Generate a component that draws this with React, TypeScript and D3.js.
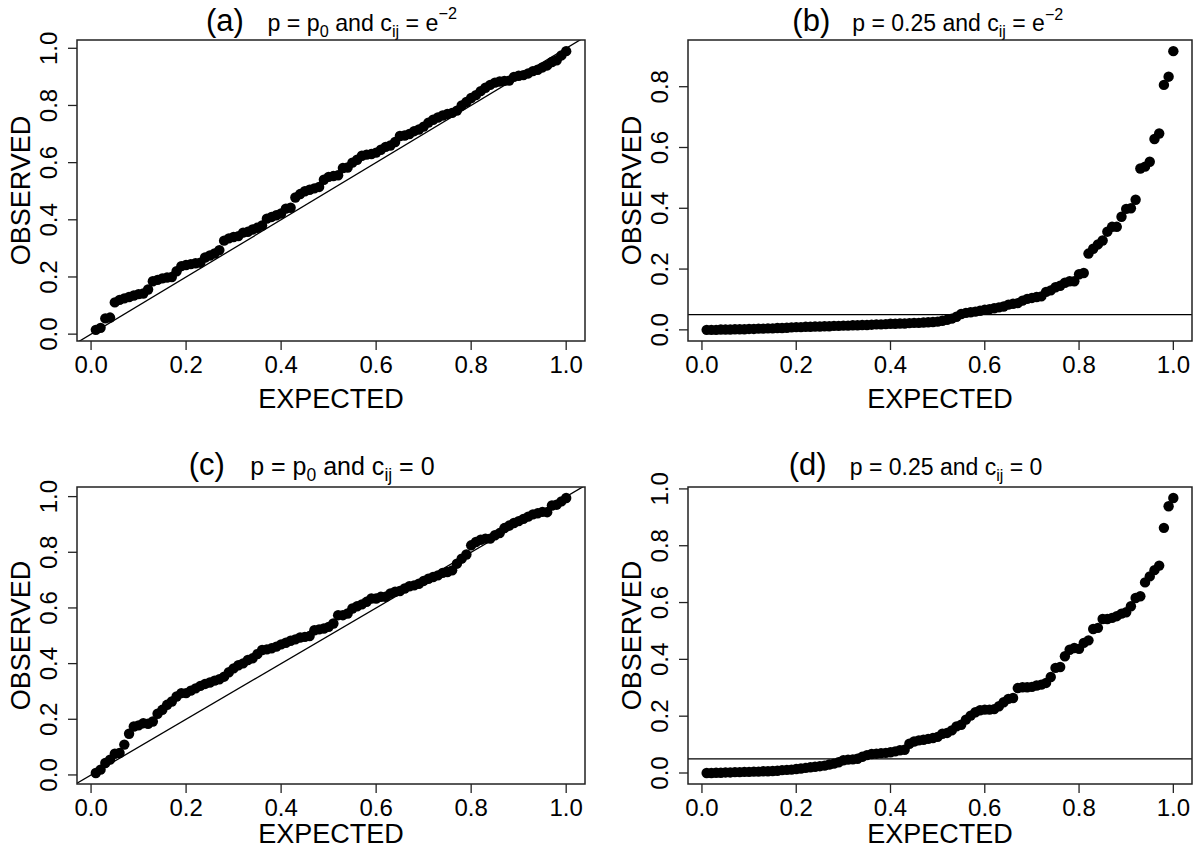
import React from "react";
import * as d3 from "d3";

// Expected quantiles 0.01 .. 1.00
const expected: number[] = d3.range(1, 101).map((i) => i / 100);

const observedA: number[] = [
  0.015, 0.022, 0.055, 0.058, 0.111, 0.12, 0.125, 0.13, 0.135, 0.14,
  0.142, 0.156, 0.185, 0.19, 0.195, 0.198, 0.2, 0.22, 0.238, 0.242,
  0.245, 0.248, 0.25, 0.268, 0.275, 0.282, 0.294, 0.327, 0.335, 0.34,
  0.343, 0.355, 0.358, 0.366, 0.372, 0.38, 0.404, 0.41, 0.416, 0.422,
  0.439, 0.442, 0.478, 0.49, 0.5, 0.505, 0.51, 0.515, 0.54, 0.55,
  0.553, 0.556, 0.581, 0.583, 0.6, 0.61, 0.624, 0.628, 0.63, 0.635,
  0.645, 0.655, 0.66, 0.672, 0.693, 0.695, 0.7, 0.71, 0.716, 0.726,
  0.74, 0.75, 0.758, 0.765, 0.77, 0.774, 0.782, 0.8, 0.812, 0.826,
  0.836, 0.85, 0.862, 0.872, 0.88, 0.884, 0.886, 0.887, 0.9, 0.904,
  0.906, 0.912, 0.92, 0.925, 0.933, 0.94, 0.952, 0.958, 0.975, 0.99,
];

const observedB: number[] = [
  0.0, 0.0, 0.0, 0.001, 0.001, 0.001, 0.002, 0.002, 0.002, 0.003,
  0.003, 0.004, 0.004, 0.005, 0.005, 0.006, 0.006, 0.007, 0.008, 0.009,
  0.009, 0.01, 0.01, 0.011, 0.011, 0.012, 0.012, 0.013, 0.013, 0.014,
  0.014, 0.015, 0.015, 0.016, 0.016, 0.017, 0.018, 0.018, 0.019, 0.02,
  0.02, 0.021, 0.021, 0.022, 0.023, 0.023, 0.024, 0.025, 0.026, 0.027,
  0.03, 0.033, 0.037, 0.043, 0.052, 0.056, 0.058, 0.06, 0.063, 0.066,
  0.068, 0.071, 0.074, 0.077, 0.083, 0.086, 0.088, 0.096, 0.102, 0.105,
  0.108, 0.11, 0.125, 0.13, 0.14, 0.145, 0.155, 0.16, 0.16, 0.183,
  0.187, 0.251, 0.267, 0.281, 0.294, 0.323, 0.339, 0.339, 0.372, 0.398,
  0.4, 0.428, 0.531, 0.537, 0.553, 0.628, 0.646, 0.806, 0.833, 0.917,
];

const observedC: number[] = [
  0.007, 0.019, 0.043, 0.055, 0.076, 0.079, 0.109, 0.148, 0.174, 0.178,
  0.186, 0.184, 0.192, 0.22, 0.234, 0.252, 0.264, 0.282, 0.294, 0.294,
  0.303, 0.311, 0.32, 0.327, 0.332, 0.339, 0.344, 0.353, 0.369, 0.383,
  0.394, 0.401, 0.413, 0.419, 0.434, 0.449, 0.451, 0.455, 0.461, 0.469,
  0.475, 0.482, 0.487, 0.494, 0.496, 0.499, 0.52, 0.523, 0.526, 0.532,
  0.544, 0.574, 0.574, 0.58, 0.598, 0.606, 0.613, 0.622, 0.634, 0.634,
  0.64, 0.64, 0.652, 0.658, 0.661, 0.67, 0.678, 0.681, 0.687, 0.697,
  0.705, 0.711, 0.717, 0.726, 0.729, 0.735, 0.759, 0.777, 0.792, 0.825,
  0.837, 0.845, 0.849, 0.849, 0.861, 0.869, 0.887, 0.896, 0.905, 0.912,
  0.92, 0.928, 0.936, 0.94, 0.945, 0.944, 0.968, 0.971, 0.983, 0.995,
];

const observedD: number[] = [
  0.0, 0.0, 0.001, 0.001, 0.002, 0.002, 0.003, 0.003, 0.004, 0.004,
  0.005, 0.005, 0.006, 0.006, 0.007, 0.008, 0.01, 0.011, 0.012, 0.014,
  0.016, 0.018, 0.02, 0.022, 0.024, 0.026, 0.03, 0.033, 0.038, 0.045,
  0.047, 0.048, 0.05, 0.057, 0.063, 0.067, 0.068, 0.07, 0.071, 0.073,
  0.076, 0.08, 0.082, 0.103, 0.111, 0.115, 0.117, 0.12, 0.123, 0.127,
  0.138, 0.141, 0.15, 0.164, 0.17, 0.188, 0.202, 0.214, 0.221, 0.223,
  0.223, 0.225, 0.235, 0.249, 0.261, 0.264, 0.299, 0.302, 0.302, 0.303,
  0.308, 0.311, 0.317, 0.338, 0.37, 0.373, 0.411, 0.434, 0.44, 0.437,
  0.458, 0.467, 0.507, 0.511, 0.542, 0.542, 0.546, 0.552, 0.561, 0.566,
  0.587, 0.616, 0.622, 0.671, 0.692, 0.714, 0.73, 0.863, 0.939, 0.968,
];

const xTicks: number[] = [0, 0.2, 0.4, 0.6, 0.8, 1.0];
const yTicksFull: number[] = [0, 0.2, 0.4, 0.6, 0.8, 1.0];
const yTicksB: number[] = [0, 0.2, 0.4, 0.6, 0.8];

const xLabel = "EXPECTED";
const yLabel = "OBSERVED";

type Panel = {
  tag: string;
  pText: string;
  pSub: string;
  cValue: "e" | "0";
  obs: number[];
  yTicks: number[];
  ref: "diag" | "h05";
  left: number;
  right: number;
  top: number;
  bottom: number;
  tagFrac: number;
  subFrac: number;
  subSize: number;
  titleDy: number;
  tickDy: number;
  labDy: number;
};

const FONT = "'Liberation Sans', Arial, Helvetica, sans-serif";

const panels: Panel[] = [
  { tag: "(a)", pText: "p", pSub: "0", cValue: "e", obs: observedA, yTicks: yTicksFull, ref: "diag",
    left: 77, right: 585, top: 40, bottom: 341, tagFrac: 0.254, subFrac: 0.375, subSize: 23.2, titleDy: 9, tickDy: 32, labDy: 67 },
  { tag: "(b)", pText: "0.25", pSub: "", cValue: "e", obs: observedB, yTicks: yTicksB, ref: "h05",
    left: 688, right: 1192, top: 40, bottom: 341, tagFrac: 0.207, subFrac: 0.326, subSize: 23, titleDy: 9, tickDy: 32, labDy: 67 },
  { tag: "(c)", pText: "p", pSub: "0", cValue: "0", obs: observedC, yTicks: yTicksFull, ref: "diag",
    left: 77, right: 585, top: 487, bottom: 784, tagFrac: 0.22, subFrac: 0.341, subSize: 25, titleDy: 12, tickDy: 32, labDy: 59 },
  { tag: "(d)", pText: "0.25", pSub: "", cValue: "0", obs: observedD, yTicks: yTicksFull, ref: "h05",
    left: 688, right: 1192, top: 487, bottom: 784, tagFrac: 0.2, subFrac: 0.321, subSize: 23, titleDy: 12, tickDy: 32, labDy: 59 },
];

function extendRange(ext: [number, number]): [number, number] {
  const d = (ext[1] - ext[0]) * 0.04;
  return [ext[0] - d, ext[1] + d];
}

function PanelView({ p, id }: { p: Panel; id: string }) {
  const x = d3.scaleLinear().domain(extendRange(d3.extent(expected) as [number, number])).range([p.left, p.right]);
  const y = d3.scaleLinear().domain(extendRange(d3.extent(p.obs) as [number, number])).range([p.bottom, p.top]);
  const w = p.right - p.left;
  const cx = (p.left + p.right) / 2;
  const cy = (p.top + p.bottom) / 2;
  const tick = 9;
  const lineGen = d3.line<[number, number]>().x((d) => x(d[0])).y((d) => y(d[1]));
  const xd = x.domain();
  const refPts: [number, number][] =
    p.ref === "diag"
      ? [[xd[0], xd[0]], [xd[1], xd[1]]]
      : [[xd[0], 0.05], [xd[1], 0.05]];
  const clipId = `clip-${id}`;
  const s = p.subSize;
  const ss = s * 0.7;
  const base = p.top - p.titleDy;
  return (
    <g>
      <defs>
        <clipPath id={clipId}>
          <rect x={p.left} y={p.top} width={w} height={p.bottom - p.top} />
        </clipPath>
      </defs>
      {/* title */}
      <text x={p.left + p.tagFrac * w} y={base} fontSize={31} fontFamily={FONT} fill="#000">
        {p.tag}
      </text>
      <text x={p.left + p.subFrac * w} y={base} fontFamily={FONT} fill="#000" fontSize={s}>
        <tspan>{"p = " + p.pText}</tspan>
        {p.pSub ? <tspan fontSize={ss} dy={s * 0.25}>{p.pSub}</tspan> : null}
        <tspan dy={p.pSub ? -s * 0.25 : 0}> and c</tspan>
        <tspan fontSize={ss} dy={s * 0.25}>ij</tspan>
        <tspan dy={-s * 0.25}>{" = " + (p.cValue === "e" ? "e" : "0")}</tspan>
        {p.cValue === "e" ? <tspan fontSize={ss} dy={-s * 0.5}>−2</tspan> : null}
      </text>
      {/* reference line */}
      <path d={lineGen(refPts) || ""} stroke="#000" strokeWidth={1.3} fill="none" clipPath={`url(#${clipId})`} />
      {/* points */}
      {expected.map((e, i) => (
        <circle key={i} cx={x(e)} cy={y(p.obs[i])} r={5.2} fill="#000" />
      ))}
      {/* box */}
      <rect x={p.left} y={p.top} width={w} height={p.bottom - p.top} fill="none" stroke="#222" strokeWidth={1.5} />
      {/* x axis */}
      {xTicks.map((t) => (
        <g key={`x${t}`}>
          <line x1={x(t)} x2={x(t)} y1={p.bottom} y2={p.bottom + tick} stroke="#222" strokeWidth={1.3} />
          <text x={x(t)} y={p.bottom + p.tickDy} textAnchor="middle" fontSize={24} fontFamily={FONT} fill="#000">
            {t.toFixed(1)}
          </text>
        </g>
      ))}
      <text x={cx} y={p.bottom + p.labDy} textAnchor="middle" fontSize={27} fontFamily={FONT} fill="#000">
        {xLabel}
      </text>
      {/* y axis */}
      {p.yTicks.map((t) => (
        <g key={`y${t}`}>
          <line x1={p.left - tick} x2={p.left} y1={y(t)} y2={y(t)} stroke="#222" strokeWidth={1.3} />
          <text
            transform={`translate(${p.left - 20},${y(t)}) rotate(-90)`}
            textAnchor="middle"
            fontSize={24}
            fontFamily={FONT}
            fill="#000"
          >
            {t.toFixed(1)}
          </text>
        </g>
      ))}
      <text
        transform={`translate(${p.left - 47},${cy}) rotate(-90)`}
        textAnchor="middle"
        fontSize={27}
        fontFamily={FONT}
        fill="#000"
      >
        {yLabel}
      </text>
    </g>
  );
}

export default function App() {
  return (
    <div style={{ position: "absolute", left: 0, top: 0 }}>
      <svg width={1200} height={856} viewBox="0 0 1200 856" style={{ display: "block", background: "#fff" }}>
        <rect x={0} y={0} width={1200} height={856} fill="#fff" />
        {panels.map((p, i) => (
          <PanelView key={i} p={p} id={`p${i}`} />
        ))}
      </svg>
    </div>
  );
}
